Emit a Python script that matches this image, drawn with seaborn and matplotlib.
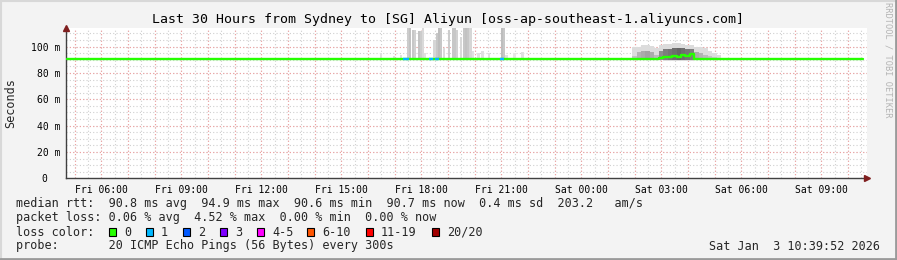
import matplotlib
matplotlib.use("Agg")
import matplotlib.pyplot as plt
from matplotlib.patches import Rectangle
from matplotlib.lines import Line2D
import numpy as np
import pandas as pd
import seaborn as sns

# ---------------- data ----------------
title = "Last 30 Hours from Sydney to [SG] Aliyun [oss-ap-southeast-1.aliyuncs.com]"
# time axis: hours since Fri 00:00
x_start, x_end = 4.688, 34.688
tick_hours = [6, 9, 12, 15, 18, 21, 24, 27, 30, 33]
tick_labels = ["Fri 06:00", "Fri 09:00", "Fri 12:00", "Fri 15:00", "Fri 18:00",
               "Fri 21:00", "Sat 00:00", "Sat 03:00", "Sat 06:00", "Sat 09:00"]
y_ticks = [0, 20, 40, 60, 80, 100]
y_tick_labels = ["0  ", "20 m", "40 m", "60 m", "80 m", "100 m"]
y_max = 114.4

# median rtt (ms), step line
median_t = [4.70, 26.90, 27.07, 27.23, 27.40, 27.57, 27.73, 27.90, 28.07, 28.23, 34.56]
median_v = [90.8, 91.2, 92.0, 92.4, 93.0, 92.2, 93.7, 93.0, 94.6, 90.8, 90.8]

# packet-loss segments on the median line
loss_t0 = [17.31, 18.28, 18.52, 20.95]
loss_t1 = [17.53, 18.43, 18.66, 21.10]
loss_idx = [1, 1, 1, 1]

# isolated smoke spikes (5-minute samples)
spike_t = [16.45, 16.94, 17.20, 17.46, 17.54, 17.65, 17.73, 17.87, 17.95, 18.02,
           18.10, 18.45, 18.53, 18.62, 18.70, 18.80, 19.00, 19.13, 19.22, 19.30,
           19.45, 19.55, 19.63, 19.72, 19.80, 19.90, 20.10, 20.25, 20.50, 20.98,
           21.06, 21.15, 21.45, 21.75]
spike_top = [95, 93, 94, 140, 140, 113, 113, 112, 112, 140,
             95, 105, 110, 140, 140, 99, 113, 140, 140, 113,
             107, 140, 140, 140, 115, 97, 95, 97, 95, 140,
             140, 94, 95, 96]
spike_gray = [0.88, 0.88, 0.88, 0.80, 0.76, 0.78, 0.82, 0.76, 0.80, 0.85,
              0.88, 0.84, 0.78, 0.74, 0.78, 0.86, 0.80, 0.78, 0.78, 0.82,
              0.85, 0.78, 0.76, 0.78, 0.84, 0.88, 0.88, 0.88, 0.88, 0.74,
              0.78, 0.88, 0.90, 0.88]

# smoke band around Sat 03:00 (10-minute samples)
band_t = [25.90, 26.07, 26.23, 26.40, 26.57, 26.73, 26.90, 27.07, 27.23, 27.40,
          27.57, 27.73, 27.90, 28.07, 28.23, 28.40, 28.57, 28.73, 28.90, 29.07]
band_min = [90.0, 90.0, 89.8, 89.8, 90.0, 90.0, 89.5, 89.0, 89.0, 89.0,
            89.0, 89.0, 89.0, 89.0, 89.8, 90.0, 90.0, 90.0, 90.2, 90.4]
band_lo = [90.5, 90.5, 90.3, 90.3, 90.5, 90.5, 90.0, 89.8, 89.8, 89.8,
           89.8, 89.8, 89.8, 89.8, 90.3, 90.5, 90.5, 90.6, 90.6, 90.6]
band_hi = [93.0, 96.0, 97.0, 97.0, 96.0, 94.0, 97.0, 98.0, 98.5, 99.0,
           99.0, 99.0, 98.5, 98.0, 96.0, 95.0, 94.0, 93.0, 92.0, 91.5]
band_max = [99.5, 100.0, 101.0, 101.0, 100.5, 99.0, 101.3, 102.0, 102.0, 102.5,
            102.5, 102.0, 101.5, 101.0, 100.0, 99.5, 99.0, 96.5, 95.0, 93.5]
band_dark = [0.15, 0.25, 0.30, 0.35, 0.30, 0.20, 0.50, 0.60, 0.65, 0.70,
             0.75, 0.70, 0.65, 0.60, 0.30, 0.25, 0.20, 0.15, 0.10, 0.05]

loss_colors = ["#26ff00", "#00b8ff", "#0059ff", "#7e00ff", "#ff00ff",
               "#ff5500", "#ff0000", "#a10000"]
loss_labels = ["0", "1", "2", "3", "4-5", "6-10", "11-19", "20/20"]

stat_line1 = "median rtt:  90.8 ms avg  94.9 ms max  90.6 ms min  90.7 ms now  0.4 ms sd  203.2   am/s"
stat_line2 = "packet loss: 0.06 % avg  4.52 % max  0.00 % min  0.00 % now"
probe_line = "probe:       20 ICMP Echo Pings (56 Bytes) every 300s"
date_text = "Sat Jan  3 10:39:52 2026"

# ---------------- style ----------------
sns.set_style("white")
plt.rcParams["font.family"] = ["DejaVu Sans Mono"]

W, H = 897, 260
fig = plt.figure(figsize=(W / 100, H / 100), dpi=100)
fig.patch.set_facecolor("#f3f3f3")

def fx(x):
    return x / W

def fy(y):
    return 1 - y / H

ax_l, ax_r, ax_t, ax_b = 66.3, 866.5, 27.7, 178.3
ax = fig.add_axes([fx(ax_l), fy(ax_b), (ax_r - ax_l) / W, (ax_b - ax_t) / H])
ax.set_facecolor("white")
ax.set_xlim(x_start, x_end)
ax.set_ylim(0, y_max)

# grid
minor_x = np.arange(5.0, 34.6, 0.5)
major_x = np.arange(5.0, 34.6, 1.0)
for xv in minor_x:
    ax.axvline(xv, color="#cfcfcf", lw=0.8, ls=(0, (1, 2)), zorder=0)
for yv in np.arange(5, 114, 5):
    ax.axhline(yv, color="#cfcfcf", lw=0.8, ls=(0, (1, 2)), zorder=0)
for xv in major_x:
    ax.axvline(xv, color="#f0a0a0", lw=0.8, ls=(0, (1, 2)), zorder=0.5)
for yv in y_ticks[1:]:
    ax.axhline(yv, color="#f0a0a0", lw=0.8, ls=(0, (1, 2)), zorder=0.5)

# smoke spikes
spike_base = 90.0
ax.bar(spike_t, np.array(spike_top) - spike_base, bottom=spike_base, width=1 / 12,
       align="edge", color=[str(g) for g in spike_gray], linewidth=0, zorder=2)

# smoke band
bw = 1 / 6
ax.bar(band_t, np.array(band_max) - np.array(band_min), bottom=band_min, width=bw,
       align="edge", color="#dcdcdc", linewidth=0, zorder=2)
mid_cols = [str(round(0.85 - 0.6 * d, 3)) for d in band_dark]
ax.bar(band_t, np.array(band_hi) - np.array(band_lo), bottom=band_lo, width=bw,
       align="edge", color=mid_cols, linewidth=0, zorder=3)

# median line
med_df = pd.DataFrame({"t": median_t, "rtt": median_v})
sns.lineplot(data=med_df, x="t", y="rtt", drawstyle="steps-post", color=loss_colors[0],
             lw=1.7, estimator=None, ax=ax, zorder=5)
ax.hlines([median_v[0]] * len(loss_t0), loss_t0, loss_t1,
          colors=[loss_colors[i] for i in loss_idx], lw=1.7, zorder=6)

# axes decoration
for s in ["top", "right"]:
    ax.spines[s].set_visible(False)
for s in ["left", "bottom"]:
    ax.spines[s].set_color("#404040")
    ax.spines[s].set_linewidth(1.0)
ax.set_xticks(tick_hours)
ax.set_xticklabels(tick_labels, fontsize=7)
ax.set_yticks(y_ticks)
ax.set_yticklabels(y_tick_labels, fontsize=7)
ax.set_xticks(minor_x, minor=True)
ax.set_yticks(np.arange(5, 114, 5), minor=True)
ax.tick_params(axis="both", which="major", length=1.8, width=0.8, color="#e08080",
               direction="out", colors="#e08080", labelcolor="black")
ax.tick_params(axis="x", which="major", pad=3.2)
ax.tick_params(axis="y", which="major", pad=2.7)
ax.tick_params(axis="both", which="minor", length=1.8, width=0.8, color="#b0b0b0",
               direction="out")
ax.set_xlabel("")
ax.set_ylabel("")

# arrows
ax.plot([0], [1.0], marker="^", transform=ax.transAxes, clip_on=False,
        color="#7f1f1f", markersize=5, zorder=10)
ax.plot([1.0], [0], marker=">", transform=ax.transAxes, clip_on=False,
        color="#7f1f1f", markersize=5, zorder=10)

# texts
fig.text(fx(447.5), fy(19), title, ha="center", va="center", fontsize=9.5, color="black")
fig.text(fx(11), fy(103), "Seconds", rotation=90, ha="center", va="center", fontsize=8.5)
fig.text(fx(888), fy(60), "RRDTOOL / TOBI OETIKER", rotation=270, ha="center",
         va="center", fontsize=6.2, color="#b4b4b4")

lx = 16
fig.text(fx(lx), fy(204), stat_line1, ha="left", va="center", fontsize=8.5)
fig.text(fx(lx), fy(218), stat_line2, ha="left", va="center", fontsize=8.5)
fig.text(fx(lx), fy(232), "loss color:", ha="left", va="center", fontsize=8.5)
fig.text(fx(lx), fy(246), probe_line, ha="left", va="center", fontsize=8.5)
fig.text(fx(880), fy(246), date_text, ha="right", va="center", fontsize=8.5)

sq_x = [109, 146, 183, 219.7, 257, 307, 366, 431.7]
for xx, c, lab in zip(sq_x, loss_colors, loss_labels):
    fig.patches.append(Rectangle((fx(xx), fy(236)), 7 / W, 8 / H, transform=fig.transFigure,
                                 facecolor=c, edgecolor="black", lw=0.8))
    fig.text(fx(xx + 15), fy(232), lab, ha="left", va="center", fontsize=8.5)

# frame
fig.add_artist(Line2D([fx(1), fx(1)], [fy(0), fy(259)], color="#d8d8d8", lw=1.5))
fig.add_artist(Line2D([fx(0), fx(896)], [fy(1), fy(1)], color="#d8d8d8", lw=1.5))
fig.add_artist(Line2D([fx(896), fx(896)], [fy(0), fy(260)], color="#9a9a9a", lw=2))
fig.add_artist(Line2D([fx(0), fx(897)], [fy(259), fy(259)], color="#9a9a9a", lw=2))

fig.savefig("out.png", dpi=100, facecolor=fig.get_facecolor())
